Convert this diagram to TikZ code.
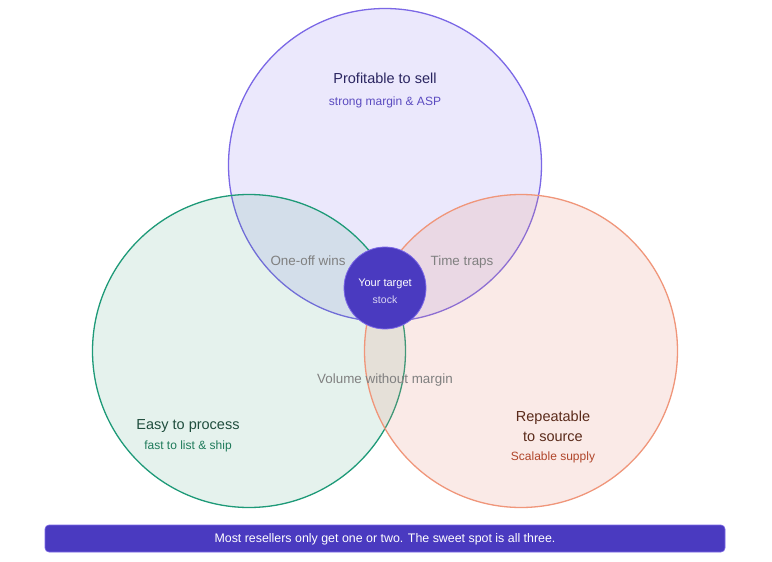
\documentclass[tikz,border=0pt]{standalone}
\usepackage{fontspec}
\setmainfont{Liberation Sans}
\definecolor{pstroke}{HTML}{7B68E6}
\definecolor{pfill}{HTML}{7B68EE}
\definecolor{gstroke}{HTML}{1E9A78}
\definecolor{gfill}{HTML}{2A9A70}
\definecolor{ostroke}{HTML}{F0967A}
\definecolor{ofill}{HTML}{E8907A}
\definecolor{core}{HTML}{4A3AC0}
\definecolor{ptitle}{HTML}{2A2560}
\definecolor{psub}{HTML}{5B4BC0}
\definecolor{gtitle}{HTML}{1F4D3D}
\definecolor{gsub}{HTML}{1E7A5A}
\definecolor{otitle}{HTML}{5A2A1A}
\definecolor{osub}{HTML}{B0452A}
\definecolor{overlap}{HTML}{808080}
\tikzset{
  fixed/.style={text height=0.72em, text depth=0.22em},
  setcircle/.style={circle, line width=1.3pt, minimum size=#1, inner sep=0pt},
  title/.style={font=\fontsize{14.5}{20}\selectfont, align=center},
  sub/.style={font=\fontsize{12}{14}\selectfont, fixed},
  olabel/.style={font=\fontsize{13.4}{16}\selectfont, text=overlap, fixed},
}
\begin{document}
\begin{tikzpicture}[x=1pt,y=-1pt]
\useasboundingbox (0,0) rectangle (772,562);
\fill[white] (0,0) rectangle (772,562);
% circles
\node[setcircle=313pt, draw=pstroke, fill=pfill, fill opacity=0.15] (profit) at (385,165) {};
\node[setcircle=313pt, draw=gstroke, fill=gfill, fill opacity=0.12] (easy) at (249,351) {};
\node[setcircle=313pt, draw=ostroke, fill=ofill, fill opacity=0.18] (repeat) at (521,351) {};
% overlap labels
\node[olabel] (oneoff) at (308,262.5) {One-off wins};
\node[olabel] (timetraps) at (462,262.5) {Time traps};
\node[olabel] (volume) at (385,380.5) {Volume without margin};
% core
\node[circle, minimum size=82pt, inner sep=0pt, fill=core, draw=pstroke, line width=0.8pt] (core) at (385,288) {};
\node[text=white, font=\fontsize{11}{13}\selectfont, fixed] (coreA) at (385,284) {Your target};
\node[text=white!80!core, font=\fontsize{10.5}{12}\selectfont, fixed] (coreB) at (385,301) {stock};
% set labels
\node[title, text=ptitle, fixed] (pt) at (385,80.5) {Profitable to sell};
\node[sub, text=psub] (ps) at (385,102.5) {strong margin \& ASP};
\node[title, text=gtitle, fixed] (gt) at (188,426.5) {Easy to process};
\node[sub, text=gsub] (gs) at (188,446.5) {fast to list \& ship};
\node[title, text=otitle] (ot) at (553,426) {Repeatable\\to source};
\node[sub, text=osub] (os) at (553,457.5) {Scalable supply};
% banner
\node[fill=core, draw=pstroke, line width=0.6pt, rounded corners=4pt, minimum width=680pt, minimum height=27pt, inner sep=0pt, text=white, font=\fontsize{12.4}{14}\selectfont, fixed] (banner) at (385,538.5) {};
\node[text=white, font=\fontsize{12.4}{14}\selectfont, fixed] (bannertext) at (385,540) {Most resellers only get one or two. The sweet spot is all three.};
\end{tikzpicture}
\end{document}
